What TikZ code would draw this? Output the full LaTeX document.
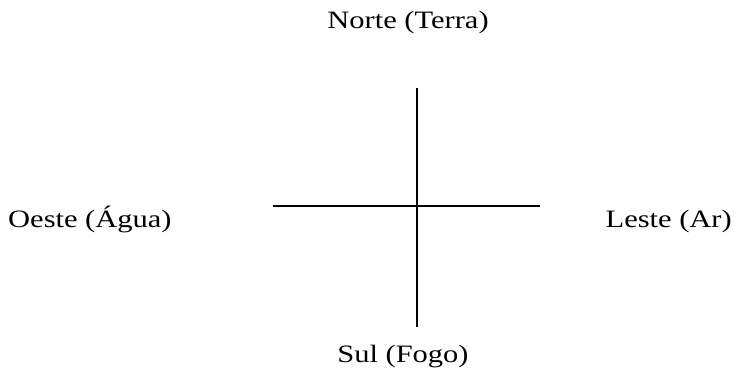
\documentclass[tikz,border=0pt]{standalone}
\usepackage{fontspec}
\setmainfont[FakeStretch=1.22]{Liberation Serif}
\begin{document}
\begin{tikzpicture}[x=1pt,y=1pt,
  lbl/.style={inner sep=0pt,font=\fontsize{25}{30}\selectfont},
  axis/.style={line width=1.5pt,black}]
\useasboundingbox (0,0) rectangle (737,373);
\node[lbl,anchor=base] (n) at (408,344) {Norte (Terra)};
\node[lbl,anchor=base] (s) at (403,11) {Sul (Fogo)};
\node[lbl,anchor=base west] (w) at (8,146) {Oeste (Água)};
\node[lbl,anchor=base east] (e) at (732,146) {Leste (Ar)};
\coordinate (vt) at (417,285);
\coordinate (vb) at (417,46);
\coordinate (hl) at (273,167);
\coordinate (hr) at (540,167);
\draw[axis] (vt) -- (vb);
\draw[axis] (hl) -- (hr);
\end{tikzpicture}
\end{document}
